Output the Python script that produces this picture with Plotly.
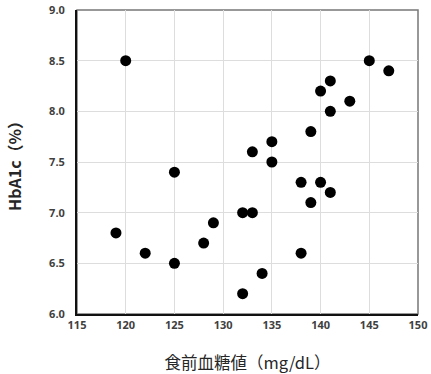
import plotly.graph_objects as go

glucose = [119, 120, 122, 125, 125, 128, 129, 132, 133, 132, 133, 134, 135, 135,
           138, 138, 139, 139, 140, 140, 141, 141, 141, 143, 145, 147]
hba1c = [6.8, 8.5, 6.6, 7.4, 6.5, 6.7, 6.9, 7.0, 7.0, 6.2, 7.6, 6.4, 7.7, 7.5,
         7.3, 6.6, 7.8, 7.1, 8.2, 7.3, 8.3, 8.0, 7.2, 8.1, 8.5, 8.4]
x_ticks = [115, 120, 125, 130, 135, 140, 145, 150]
y_ticks = [6.0, 6.5, 7.0, 7.5, 8.0, 8.5, 9.0]
x_title = "食前血糖値（mg/dL）"
y_title = "HbA1c（%）"

fig = go.Figure()
fig.add_trace(go.Scatter(
    x=glucose, y=hba1c, mode="markers",
    marker=dict(size=11, color="black", line=dict(width=0)),
    showlegend=False, hoverinfo="x+y",
))

tickfont = dict(family="Noto Sans, sans-serif", size=11, color="#404040", weight="bold")

fig.update_layout(
    width=431, height=374,
    margin=dict(l=77, r=13, t=10, b=60, autoexpand=False),
    paper_bgcolor="white", plot_bgcolor="white",
    xaxis=dict(
        range=[115, 150], tickvals=x_ticks, ticktext=[str(v) for v in x_ticks],
        showgrid=True, gridcolor="#dddddd", gridwidth=1, automargin=False,
        showline=True, linecolor="#111111", linewidth=2, mirror=False,
        ticks="", tickfont=tickfont, zeroline=False,
        title=dict(text=x_title, font=dict(family="Noto Sans CJK JP", size=16.5, color="#262626"), standoff=27),
    ),
    yaxis=dict(
        range=[6.0, 9.0], tickvals=y_ticks, ticktext=[f"{v:.1f}" for v in y_ticks],
        showgrid=True, gridcolor="#dddddd", gridwidth=1, automargin=False,
        showline=True, linecolor="#111111", linewidth=2, mirror=False,
        ticks="", tickfont=tickfont, zeroline=False, ticklabelstandoff=8,
        title=dict(text=y_title, font=dict(family="Noto Sans CJK JP", size=16, color="#262626", weight="bold"), standoff=24),
    ),
)
fig.add_shape(type="rect", xref="paper", yref="paper", x0=0, x1=1, y0=0, y1=1,
              line=dict(color="#777777", width=1.5), layer="below")

fig.write_html("out.html", config={"displayModeBar": False},
               post_script="document.body.style.margin='0';document.body.style.padding='0';")
